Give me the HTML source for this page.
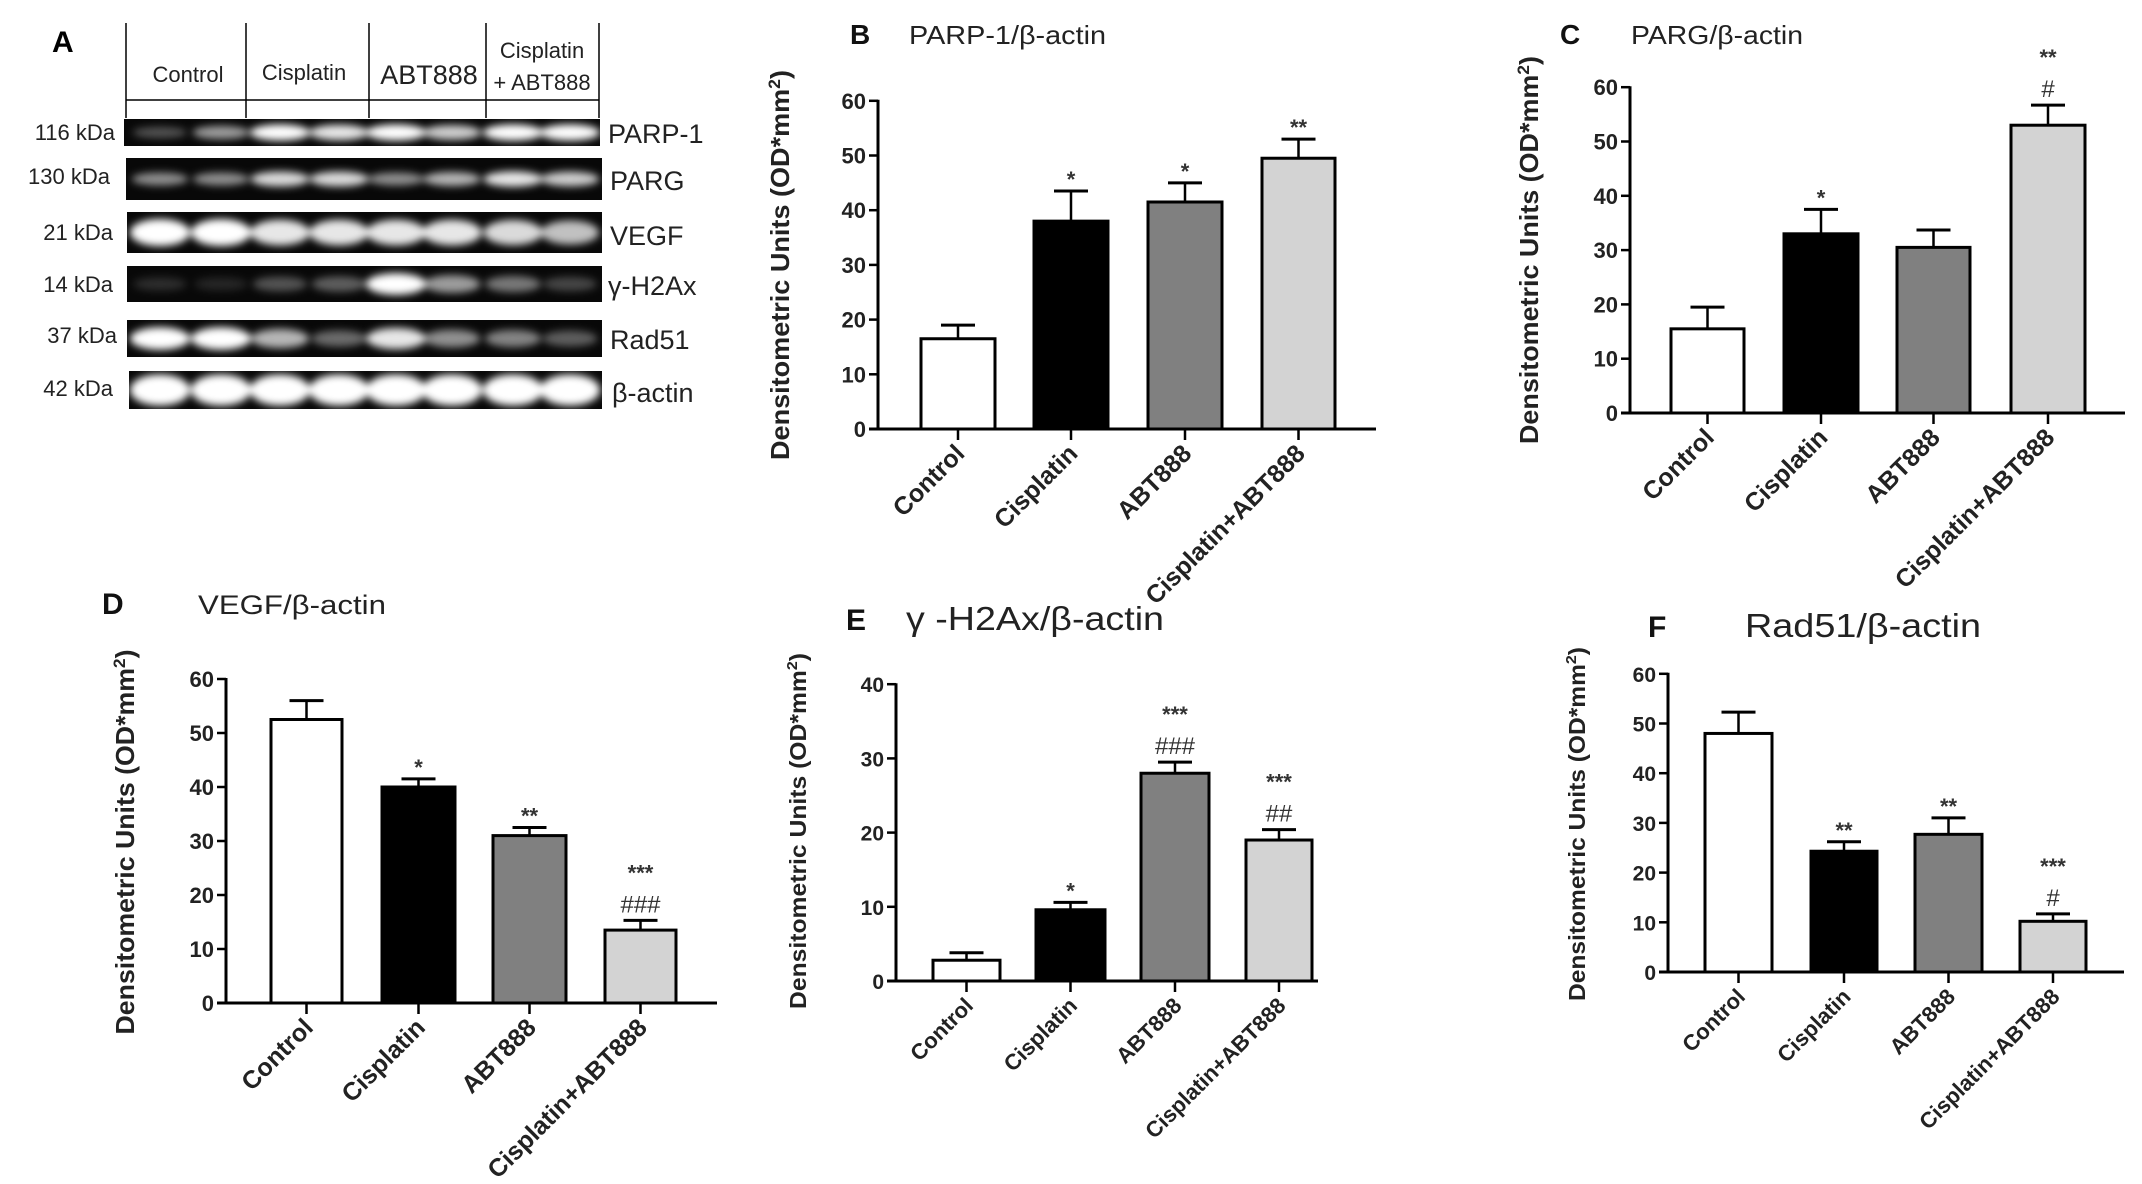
<!DOCTYPE html>
<html><head><meta charset="utf-8"><style>
html,body{margin:0;padding:0;background:#fff;}
svg{display:block;}
</style></head><body>
<svg id="s" width="2142" height="1184" viewBox="0 0 2142 1184" xmlns="http://www.w3.org/2000/svg" font-family="Liberation Sans, Arial, sans-serif">
<defs>
<filter id="bl" x="-50%" y="-50%" width="200%" height="200%"><feGaussianBlur stdDeviation="4"/></filter>
</defs>
<rect width="2142" height="1184" fill="#fff"/>
<!-- Panel A -->
<text x="52" y="52" font-size="30" font-weight="bold">A</text>
<g stroke="#000" stroke-width="1.5">
<line x1="126" y1="23" x2="126" y2="118"/><line x1="246" y1="23" x2="246" y2="118"/>
<line x1="369" y1="23" x2="369" y2="118"/><line x1="486" y1="23" x2="486" y2="118"/>
<line x1="599" y1="23" x2="599" y2="118"/><line x1="126" y1="100" x2="599" y2="100"/>
</g>
<g font-size="22" text-anchor="middle" fill="#222">
<text x="188" y="82">Control</text>
<text x="304" y="80">Cisplatin</text>
<text x="429" y="84" font-size="27">ABT888</text>
<text x="542" y="58">Cisplatin</text>
<text x="542" y="90">+ ABT888</text>
</g>
<g id="blots"></g>
<g font-size="22" text-anchor="end" fill="#222">
<text x="115" y="140">116 kDa</text>
<text x="110" y="184">130 kDa</text>
<text x="113" y="240">21 kDa</text>
<text x="113" y="292">14 kDa</text>
<text x="117" y="343">37 kDa</text>
<text x="113" y="396">42 kDa</text>
</g>
<g font-size="27" fill="#222">
<text x="608" y="143">PARP-1</text>
<text x="610" y="190">PARG</text>
<text x="610" y="245">VEGF</text>
<text x="608" y="295">γ-H2Ax</text>
<text x="610" y="349">Rad51</text>
<text x="612" y="402">β-actin</text>
</g>
<g id="charts"></g>
</svg>
<script>
var NS="http://www.w3.org/2000/svg";
function el(p,t,a,txt){var e=document.createElementNS(NS,t);for(var k in a)e.setAttribute(k,a[k]);if(txt!==undefined)e.textContent=txt;p.appendChild(e);return e;}
var B=document.getElementById('blots');
var rows=[[124,119,600,146,[0.3,0.6,1,0.9,1,0.8,1,1],0.55],
[126,158,602,200,[0.55,0.55,0.85,0.85,0.55,0.7,0.9,0.8],0.35],
[127,212,602,253,[1,1,0.9,0.9,0.9,0.9,0.85,0.75],0.6],
[127,266,602,302,[0.15,0.12,0.3,0.35,1,0.6,0.45,0.25],0.55],
[127,320,602,357,[1,1,0.7,0.4,0.9,0.55,0.5,0.35],0.55],
[129,371,602,409,[1,1,1,1,1,1,1,1],0.75]];
var lanes=[160,221,280,339,396,452,513,570];
rows.forEach(function(r){
 el(B,'rect',{x:r[0],y:r[1],width:r[2]-r[0],height:r[3]-r[1],fill:'#080808'});
 var cy=(r[1]+r[3])/2,h=(r[3]-r[1])*r[5];
 var g=el(B,'g',{filter:'url(#bl)'});
 r[4].forEach(function(v,i){
  el(g,'ellipse',{cx:lanes[i],cy:cy,rx:26+4*v,ry:h/2*(0.6+0.5*v),fill:'#fff','fill-opacity':v});
 });
});
var C=document.getElementById('charts');
var labels=['Control','Cisplatin','ABT888','Cisplatin+ABT888'];
var fills=['#fff','#000','#808080','#d3d3d3'];
function chart(o){
 var g=el(C,'g',{});
 el(g,'text',{x:o.lx,y:o.ly,'font-size':o.lf,'font-weight':'bold',fill:'#111'},o.L);
 el(g,'text',{x:o.tx,y:o.ty,'font-size':o.tf,fill:'#222',textLength:o.tw,lengthAdjust:'spacingAndGlyphs'},o.T);
 var yl=el(g,'text',{transform:'translate('+o.yx+','+o.yc+') rotate(-90)','text-anchor':'middle','font-size':o.yf,'font-weight':'bold',fill:'#222',textLength:o.yw,lengthAdjust:'spacingAndGlyphs'});
 yl.textContent='Densitometric Units (OD*mm';
 el(yl,'tspan',{dy:-9,'font-size':o.yf*0.65},'2');
 el(yl,'tspan',{dy:9},')');
 var per=o.per;
 for(var v=0;v<=o.max;v+=10){
  var y=o.y0-v/10*per;
  el(g,'line',{x1:o.ax-9,y1:y,x2:o.ax,y2:y,stroke:'#000','stroke-width':2.5});
  el(g,'text',{x:o.ax-12,y:y+8,'text-anchor':'end','font-size':o.kf,'font-weight':'bold',fill:'#222'},String(v));
 }
 o.bars.forEach(function(b,i){
  var x1=b[0],x2=b[1],cx=(x1+x2)/2,top=o.y0-b[2]/10*per,cap=o.y0-b[3]/10*per;
  el(g,'line',{x1:cx,y1:top,x2:cx,y2:cap,stroke:'#000','stroke-width':2.5});
  el(g,'line',{x1:cx-17,y1:cap,x2:cx+17,y2:cap,stroke:'#000','stroke-width':3});
  el(g,'rect',{x:x1,y:top,width:x2-x1,height:o.y0-top,fill:fills[i],stroke:'#000','stroke-width':3});
  el(g,'line',{x1:cx,y1:o.y0,x2:cx,y2:o.y0+11,stroke:'#000','stroke-width':2.5});
  var a=o.ann[i],yy=cap-8;
  if(a[1]){el(g,'text',{x:cx,y:yy,'text-anchor':'middle','font-size':24,fill:'#333'},a[1]);yy-=32;}
  if(a[0]){el(g,'text',{x:cx,y:yy+(a[1]?0:4),'text-anchor':'middle','font-size':22,'font-weight':'bold',fill:'#333'},a[0]);}
  el(g,'text',{transform:'translate('+(cx+8)+','+(o.y0+26)+') rotate(-45)','text-anchor':'end','font-size':o.xf,'font-weight':'bold',fill:'#222'},labels[i]);
 });
 el(g,'line',{x1:o.ax,y1:o.y0-o.max/10*per-1,x2:o.ax,y2:o.y0+1.5,stroke:'#000','stroke-width':3});
 el(g,'line',{x1:o.ax-9,y1:o.y0,x2:o.xend,y2:o.y0,stroke:'#000','stroke-width':3});
}
chart({L:'B',lx:850,ly:44,lf:28,T:'PARP-1/β-actin',tx:909,ty:44,tf:26,tw:197,yx:789,yc:265,yf:26,yw:390,
 ax:878,y0:429,per:54.7,max:60,xend:1376,kf:22,xf:25,
 bars:[[921,995,16.5,19],[1034,1108,38,43.5],[1148,1222,41.5,45],[1262,1335,49.5,53]],
 ann:[['',''],['*',''],['*',''],['**','']]});
chart({L:'C',lx:1560,ly:44,lf:28,T:'PARG/β-actin',tx:1631,ty:44,tf:26,tw:172,yx:1538,yc:250,yf:26,yw:388,
 ax:1630,y0:413,per:54.3,max:60,xend:2125,kf:22,xf:25,
 bars:[[1671,1744,15.5,19.5],[1784,1858,33,37.5],[1897,1970,30.5,33.7],[2011,2085,53,56.7]],
 ann:[['',''],['*',''],['',''],['**','#']]});
chart({L:'D',lx:102,ly:614,lf:30,T:'VEGF/β-actin',tx:198,ty:614,tf:27,tw:188,yx:134,yc:842,yf:26,yw:385,
 ax:226,y0:1003,per:54,max:60,xend:717,kf:22,xf:25,
 bars:[[271,342,52.5,56],[382,455,40,41.5],[493,566,31,32.5],[605,676,13.5,15.3]],
 ann:[['',''],['*',''],['**',''],['***','###']]});
chart({L:'E',lx:846,ly:630,lf:30,T:'γ -H2Ax/β-actin',tx:906,ty:630,tf:33,tw:258,yx:806,yc:831,yf:23,yw:356,
 ax:896,y0:981,per:74.2,max:40,xend:1318,kf:21,xf:22,
 bars:[[933,1000,2.8,3.8],[1036,1105,9.6,10.6],[1141,1209,28,29.5],[1246,1312,19,20.4]],
 ann:[['',''],['*',''],['***','###'],['***','##']]});
chart({L:'F',lx:1648,ly:637,lf:30,T:'Rad51/β-actin',tx:1745,ty:637,tf:33,tw:236,yx:1585,yc:824,yf:23,yw:354,
 ax:1668,y0:972,per:49.7,max:60,xend:2124,kf:21,xf:22,
 bars:[[1705,1772,48,52.3],[1811,1877,24.3,26.2],[1915,1982,27.7,31],[2020,2086,10.2,11.7]],
 ann:[['',''],['**',''],['**',''],['***','#']]});
</script>
</body></html>
